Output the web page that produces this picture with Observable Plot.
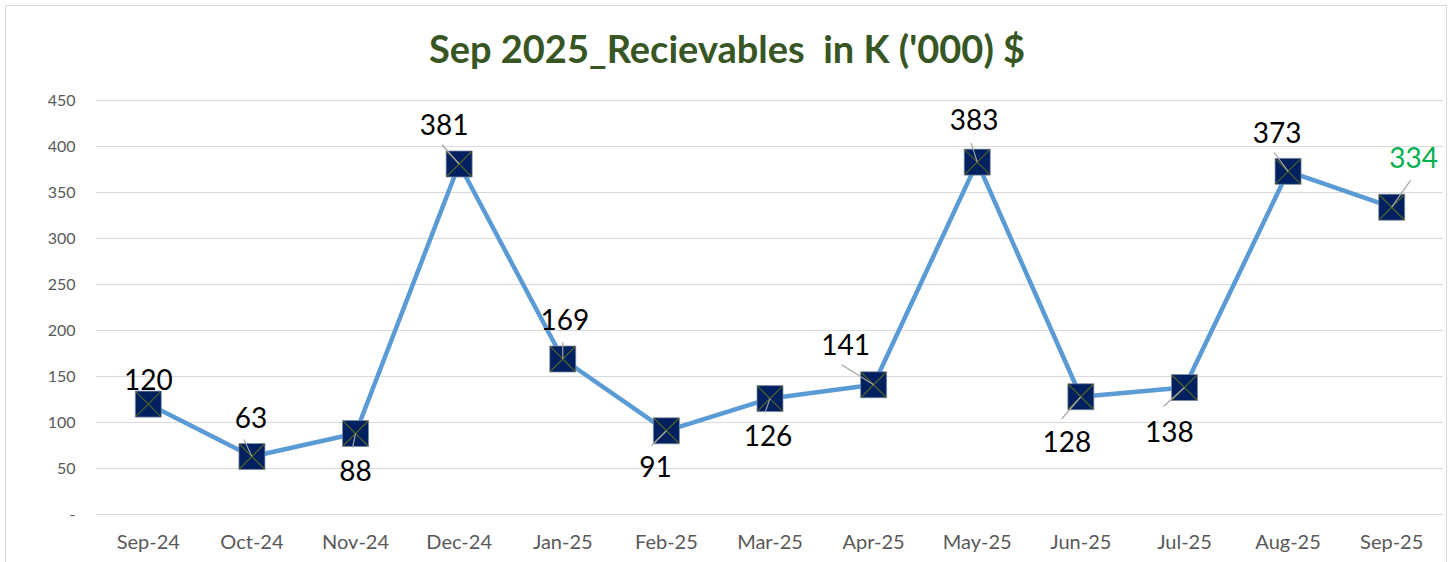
<!DOCTYPE html>
<html>
<head>
<meta charset="utf-8">
<script src="https://cdn.jsdelivr.net/npm/d3@7"></script>
<script src="https://cdn.jsdelivr.net/npm/@observablehq/plot@0.6"></script>
<style>
  html, body { margin: 0; padding: 0; background: #fff; width: 1454px; height: 562px; overflow: hidden; }
  #frame { position: absolute; left: 5px; top: 5px; width: 1442px; height: 620px; border: 1px solid #d9d9d9; box-sizing: border-box; }
  #title { position: absolute; left: 0; top: 23px; width: 1454px; text-align: center; font-family: Lato, "Open Sans", sans-serif; font-weight: 700; font-size: 38px; color: #375623; line-height: 50px; white-space: pre; }
  #chart { position: absolute; left: 0; top: 80px; }
</style>
</head>
<body>
<div id="frame"></div>
<div id="title">Sep 2025_Recievables  in K ('000) $</div>
<div id="chart"></div>
<script>
// ---- data ----
const months = ["Sep-24","Oct-24","Nov-24","Dec-24","Jan-25","Feb-25","Mar-25","Apr-25","May-25","Jun-25","Jul-25","Aug-25","Sep-25"];
const values = [120, 63, 88, 381, 169, 91, 126, 141, 383, 128, 138, 373, 334];
const yTicks = [0, 50, 100, 150, 200, 250, 300, 350, 400, 450];
// label placement (pixel offsets from the point: label centre, leader start)
const labelDx = [0, -1, 0, -15, 2, -11, -2, -28, -3, -14, -15, -11, 22];
const labelDy = [-23, -38, 38, -38, -38, 37, 38, -39, -41, 46, 45, -37, -48];
const leaderDx = [null, -8, -3, -17, 0, -15, -5, -32, -6, -19, -21, -14, 19];
const leaderDy = [null, -17, 14, -19, -17, 15, 14, -20, -19, 22, 19, -19, -27];
const labelColors = ["#000","#000","#000","#000","#000","#000","#000","#000","#000","#000","#000","#000","#00b050"];

// ---- layout ----
const W = 1454, H = 482, mL = 96, mR = 11, mT = 20, mB = 48;
const pxX = (W - mL - mR) / 13;        // px per x unit
const pxY = (H - mT - mB) / 450;       // px per y unit

const data = months.map((m, i) => ({
  i, m, v: values[i],
  lx: i + labelDx[i] / pxX,
  ly: values[i] - labelDy[i] / pxY,
  sx: leaderDx[i] == null ? null : i + leaderDx[i] / pxX,
  sy: leaderDy[i] == null ? null : values[i] - leaderDy[i] / pxY,
  c: labelColors[i]
}));

const squareSym = { draw(ctx, size) { const h = Math.sqrt(size / Math.PI); ctx.moveTo(-h, -h); ctx.lineTo(h, -h); ctx.lineTo(h, h); ctx.lineTo(-h, h); ctx.closePath(); } };
const crossSym = { draw(ctx, size) { const h = Math.sqrt(size / Math.PI); ctx.moveTo(-h, -h); ctx.lineTo(h, h); ctx.moveTo(h, -h); ctx.lineTo(-h, h); } };

const chart = Plot.plot({
  width: W, height: H,
  marginLeft: mL, marginRight: mR, marginTop: mT, marginBottom: mB,
  style: { fontFamily: "Lato, 'Open Sans', sans-serif", background: "transparent", overflow: "visible" },
  x: { type: "linear", domain: [-0.5, 12.5], axis: null },
  y: { domain: [0, 450], axis: null },
  marks: [
    Plot.gridY(yTicks, { stroke: "#d9d9d9", strokeOpacity: 1, strokeWidth: 1 }),
    Plot.axisY(yTicks, { tickSize: 0, tickPadding: 21, fontSize: 16, fill: "#595959", tickFormat: d => d === 0 ? "-" : d3.format("d")(d), label: null }),
    Plot.axisX(d3.range(13), { tickSize: 0, tickPadding: 20, fontSize: 20, fill: "#595959", tickFormat: i => months[i], label: null }),
    Plot.line(data, { x: "i", y: "v", stroke: "#5b9bd5", strokeWidth: 4.5, strokeLinejoin: "round" }),
    Plot.dot(data, { x: "i", y: "v", symbol: squareSym, r: 13, fill: "#002060", stroke: "#7f8c9f", strokeWidth: 0.75 }),
    Plot.dot(data, { x: "i", y: "v", symbol: crossSym, r: 12.5, fill: "none", stroke: "#4f6228", strokeWidth: 1.2 }),
    Plot.link(data.filter(d => d.sx != null), { x1: "sx", y1: "sy", x2: "i", y2: "v", stroke: "#a6a6a6", strokeWidth: 1.2 }),
    Plot.text(data, { x: "lx", y: "ly", text: d => String(d.v), fill: "c", fontSize: 28, textAnchor: "middle", lineAnchor: "middle" })
  ]
});
document.getElementById("chart").appendChild(chart);
</script>
</body>
</html>
